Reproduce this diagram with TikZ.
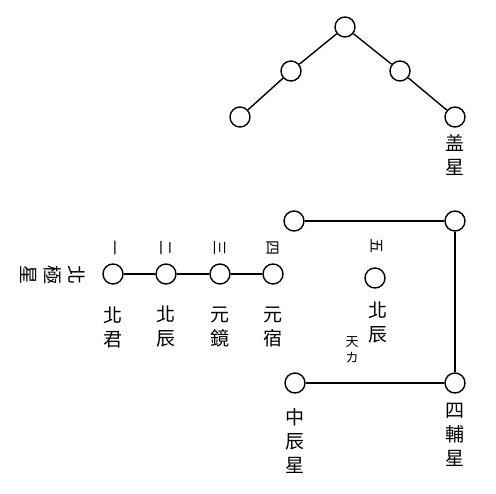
\documentclass[tikz,border=0pt]{standalone}
\usepackage{fontspec}
\newfontfamily\cjk{Noto Sans CJK TC}
\begin{document}
\begin{tikzpicture}[x=1pt,y=-1pt,
  star/.style={circle,draw,line width=1.4pt,fill=white,minimum size=20pt,inner sep=0pt},
  link/.style={line width=1.4pt},
  lab/.style={font=\cjk\fontsize{19}{24}\selectfont,align=center,inner sep=0pt},
  num/.style={font=\cjk\fontsize{15}{16}\selectfont,inner sep=0pt,rotate=-90}]
\useasboundingbox (0,0) rectangle (496,494);
% canopy
\node[star] (g1) at (240,117) {};
\node[star] (g2) at (291,71) {};
\node[star] (g3) at (345,27) {};
\node[star] (g4) at (400,71) {};
\node[star] (g5) at (455,117) {};
\draw[link] (g1) -- (g2) -- (g3) -- (g4) -- (g5);
\node[lab] (gl) at (455,155) {盖\\星};
% four assistants
\node[star] (s1) at (294,221) {};
\node[star] (s2) at (455,221) {};
\node[star] (s3) at (455,383) {};
\node[star] (s4) at (295,383) {};
\draw[link] (s1) -- (s2) -- (s3) -- (s4);
\node[lab] (s3l) at (455,435) {四\\輔\\星};
\node[lab] (s4l) at (295,441) {中\\辰\\星};
% pole star row
\node[star] (p1) at (113,274) {};
\node[star] (p2) at (166,274) {};
\node[star] (p3) at (220,274) {};
\node[star] (p4) at (273,274) {};
\draw[link] (p1) -- (p2) -- (p3) -- (p4);
\node[num] (n1) at (113,248) {一};
\node[num] (n2) at (166,248) {二};
\node[num] (n3) at (220,248) {三};
\node[num] (n4) at (273,248) {四};
\node[lab] (l1) at (113,327) {北\\君};
\node[lab] (l2) at (166,327) {北\\辰};
\node[lab] (l3) at (220,327) {元\\鏡};
\node[lab] (l4) at (273,327) {元\\宿};
\node[lab,rotate=-90] (pl) at (53,275) {北\\極\\星};
% fifth
\node[star] (p5) at (375,278) {};
\node[num] (n5) at (377,246) {五};
\node[lab] (l5) at (378,323) {北\\辰};
\node[font=\cjk\fontsize{13}{16}\selectfont,align=center,inner sep=0pt] (l5b) at (352,350) {天\\カ};
\end{tikzpicture}
\end{document}
